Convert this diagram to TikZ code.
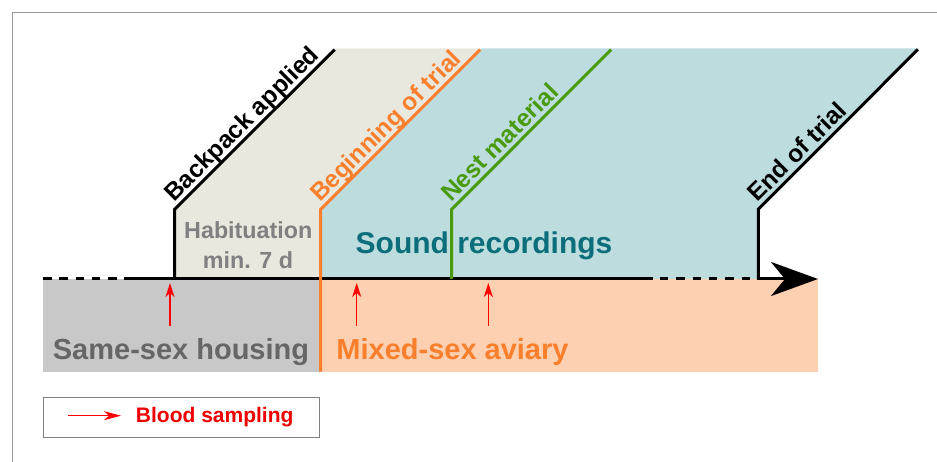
\documentclass[tikz,border=0pt]{standalone}
\usepackage{fontspec}
\setmainfont{Liberation Sans}
\usetikzlibrary{arrows.meta,calc}
\definecolor{beigefill}{HTML}{E9E8DE}
\definecolor{bluefill}{HTML}{BCDCDE}
\definecolor{peachfill}{HTML}{FDD0B1}
\definecolor{grayfill}{HTML}{C8C8C8}
\definecolor{orangeln}{HTML}{FA7F2C}
\definecolor{greenln}{HTML}{4A9A0E}
\definecolor{tealtxt}{HTML}{0D6E7B}
\definecolor{habgray}{HTML}{808080}
\definecolor{darkgraytxt}{HTML}{666666}
\definecolor{redln}{HTML}{FF0000}
\definecolor{redtxt}{HTML}{EE0000}
\definecolor{framegray}{HTML}{9A9A9A}
\tikzset{
  axisline/.style={line width=3pt, black},
  eventline/.style={line width=3pt},
  eventlabel/.style={anchor=base west, rotate=45, inner sep=0pt, font=\fontsize{24.5}{29}\selectfont\bfseries},
  bigtext/.style={anchor=base, inner sep=0pt, font=\fontsize{29}{34}\selectfont\bfseries},
  habtext/.style={anchor=base, inner sep=0pt, font=\fontsize{23.3}{28}\selectfont\bfseries, text=habgray},
  bloodarrow/.style={redln, line width=1.2pt, -{Stealth[length=14pt 0,width=9pt 0,inset=4pt 0]}},
}
\begin{document}
\begin{tikzpicture}[x=1pt,y=-1pt]
\useasboundingbox (0,0) rectangle (937,462);
% frame
\draw[framegray, line width=1pt] (12.3,462) -- (12.3,12.3) -- (937,12.3);

% coordinates of event lines
\coordinate (bpB) at (174.7,279);
\coordinate (bpC) at (174.7,209.3);
\coordinate (bpT) at (334.7,49.5);
\coordinate (btB) at (320.7,371.7);
\coordinate (btC) at (320.7,209.3);
\coordinate (btT) at (480.2,49.5);
\coordinate (nmB) at (451.7,279);
\coordinate (nmC) at (451.7,209.3);
\coordinate (nmT) at (611.2,49.5);
\coordinate (etB) at (758.3,279);
\coordinate (etC) at (758.3,209.3);
\coordinate (etT) at (917.8,49.5);

% fills
\fill[beigefill] (174.7,279) -- (174.7,209.3) -- (335.7,48.3) -- (481.7,48.3) -- (320.7,209.3) -- (320.7,279) -- cycle;
\fill[bluefill] (320.7,279) -- (320.7,209.3) -- (481.7,48.3) -- (919.3,48.3) -- (758.3,209.3) -- (758.3,279) -- cycle;
\fill[grayfill] (43,279) rectangle (320.7,371.7);
\fill[peachfill] (320.7,279) rectangle (817.7,371.7);

% axis
\coordinate (ax0) at (43,279);
\coordinate (ax1) at (124,279);
\coordinate (ax2) at (653,279);
\coordinate (ax3) at (660,279);
\coordinate (ax4) at (757,279);
\coordinate (ax5) at (818,279);
\draw[axisline, dash pattern=on 8.5pt off 7.8pt] (ax0) -- (ax1);
\draw[axisline] (ax1) -- (ax2);
\draw[axisline, dash pattern=on 8.3pt off 8pt] (ax3) -- (ax4);
\draw[axisline, -{Stealth[length=47pt 0,width=34pt 0,inset=14pt 0]}] (ax4) -- (ax5);

% event lines
\draw[eventline, black] (bpB) -- (bpC) -- (bpT);
\draw[eventline, greenln] (nmB) -- (nmC) -- (nmT);
\draw[eventline, black] (etB) -- (etC) -- (etT);
\draw[eventline, orangeln] (btB) -- (btC) -- (btT);

% event labels
\node[eventlabel, text=black] (lbBP) at ($(bpC)+(-0.7,-6.4)$) {Backpack applied};
\node[eventlabel, text=orangeln] (lbBT) at ($(btC)+(-0.7,-6.4)$) {Beginning of trial};
\node[eventlabel, text=greenln] (lbNM) at ($(nmC)+(-0.7,-6.4)$) {Nest material};
\node[eventlabel, text=black] (lbET) at ($(etC)+(-0.7,-6.4)$) {End of trial};

% blood sampling arrows
\coordinate (bs1a) at (170,326);
\coordinate (bs1b) at (170,283);
\coordinate (bs2a) at (356.7,326);
\coordinate (bs2b) at (356.7,283);
\coordinate (bs3a) at (488.3,326);
\coordinate (bs3b) at (488.3,283);
\draw[bloodarrow] (bs1a) -- (bs1b);
\draw[bloodarrow] (bs2a) -- (bs2b);
\draw[bloodarrow] (bs3a) -- (bs3b);

% region texts
\node[habtext] (hab1) at (248.3,238.3) {Habituation};
\node[habtext] (hab2) at (248,268.3) {min. 7 d};
\node[bigtext, text=tealtxt, font=\fontsize{30}{34}\selectfont\bfseries] (snd) at (484,253.5) {Sound recordings};
\node[bigtext, text=darkgraytxt] (ssh) at (181,359.3) {Same-sex housing};
\node[bigtext, text=orangeln] (msa) at (452.5,359.3) {Mixed-sex aviary};

% legend
\node[draw=habgray, line width=1pt, rectangle, minimum width=276pt, minimum height=39.7pt, inner sep=0pt] (legend) at (181.3,417.2) {};
\coordinate (lgA) at (68,415.7);
\coordinate (lgB) at (121,415.7);
\draw[redln, line width=1.2pt, -{Stealth[length=17pt 0,width=9pt 0,inset=5pt 0]}] (lgA) -- (lgB);
\node[anchor=base, inner sep=0pt, text=redtxt, font=\fontsize{21}{25}\selectfont\bfseries] (lgtxt) at (214.7,422.7) {Blood sampling};
\end{tikzpicture}
\end{document}
